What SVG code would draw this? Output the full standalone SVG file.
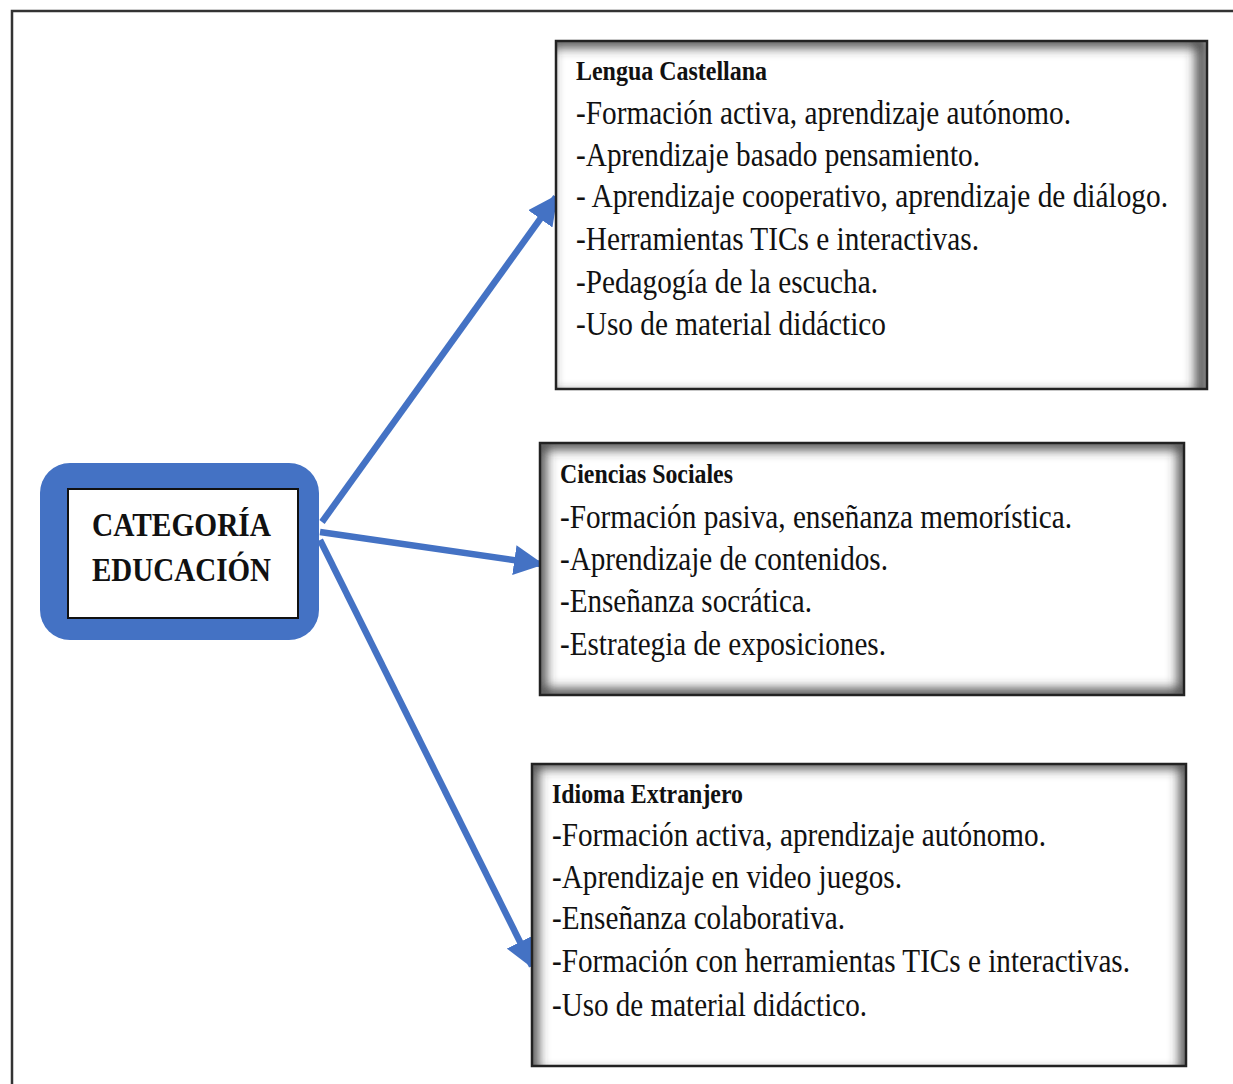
<svg xmlns="http://www.w3.org/2000/svg" width="1233" height="1084" viewBox="0 0 1233 1084">
  <defs>
    <style>
      .frame { fill: none; stroke: #333; stroke-width: 2.5; }
      .box { fill: none; stroke: #222; stroke-width: 2.5; }
      .glow { fill: none; stroke: #3a3a3a; stroke-width: 12; }
      .txt { font-family: "Liberation Serif", "Times New Roman", serif; fill: #111; }
      .body { font-size: 33px; }
      .head { font-size: 27px; font-weight: bold; }
      .core { font-size: 34px; font-weight: bold; }
      .link { fill: none; stroke: #4472C4; stroke-width: 6.5; stroke-linecap: butt; }
    </style>
    <filter id="soft" x="-10%" y="-10%" width="120%" height="120%">
      <feGaussianBlur stdDeviation="6"/>
    </filter>
    <marker id="head" viewBox="0 0 10 10" refX="9" refY="5" markerWidth="4.6" markerHeight="4.6" orient="auto" markerUnits="strokeWidth">
      <path d="M0,0 L10,5 L0,10 Z" fill="#4472C4"/>
    </marker>
    <clipPath id="clipA"><rect x="556" y="41" width="651" height="348"/></clipPath>
    <clipPath id="clipB"><rect x="540" y="443" width="644" height="252"/></clipPath>
    <clipPath id="clipC"><rect x="532" y="764" width="654" height="302"/></clipPath>
  </defs>

  <rect width="1233" height="1084" fill="#fff"/>

  <!-- outer page frame -->
  <rect class="frame" x="12" y="11" width="1240" height="1100"/>

  <!-- connectors -->
  <g id="connectors">
    <line class="link" x1="322" y1="522" x2="556" y2="197" marker-end="url(#head)"/>
    <line class="link" x1="320" y1="532" x2="541" y2="564" marker-end="url(#head)"/>
    <line class="link" x1="320" y1="540" x2="532" y2="966" marker-end="url(#head)"/>
  </g>

  <!-- central category -->
  <g id="node-categoria">
    <rect x="40" y="463" width="279" height="177" rx="30" ry="30" fill="#4472C4"/>
    <rect x="68" y="489" width="230" height="129" fill="#fff" stroke="#111" stroke-width="2"/>
    <text class="txt core" x="92" y="536" textLength="179" lengthAdjust="spacingAndGlyphs">CATEGORÍA</text>
    <text class="txt core" x="92" y="581" textLength="179" lengthAdjust="spacingAndGlyphs">EDUCACIÓN</text>
  </g>

  <!-- Lengua Castellana -->
  <g id="node-lengua">
    <rect x="556" y="41" width="651" height="348" fill="#fff"/>
    <g clip-path="url(#clipA)">
      <rect class="glow" x="546" y="41" width="656" height="358" filter="url(#soft)"/>
    </g>
    <rect class="box" x="556" y="41" width="651" height="348"/>
    <text class="txt head" x="576" y="80" textLength="191" lengthAdjust="spacingAndGlyphs">Lengua Castellana</text>
    <text class="txt body" x="576" y="124" textLength="495" lengthAdjust="spacingAndGlyphs">-Formación activa, aprendizaje autónomo.</text>
    <text class="txt body" x="576" y="166" textLength="404" lengthAdjust="spacingAndGlyphs">-Aprendizaje basado pensamiento.</text>
    <text class="txt body" x="576" y="207" textLength="592" lengthAdjust="spacingAndGlyphs">- Aprendizaje cooperativo, aprendizaje de diálogo.</text>
    <text class="txt body" x="576" y="250" textLength="403" lengthAdjust="spacingAndGlyphs">-Herramientas TICs e interactivas.</text>
    <text class="txt body" x="576" y="293" textLength="302" lengthAdjust="spacingAndGlyphs">-Pedagogía de la escucha.</text>
    <text class="txt body" x="576" y="335" textLength="310" lengthAdjust="spacingAndGlyphs">-Uso de material didáctico</text>
  </g>

  <!-- Ciencias Sociales -->
  <g id="node-ciencias">
    <rect x="540" y="443" width="644" height="252" fill="#fff"/>
    <g clip-path="url(#clipB)">
      <rect class="glow" x="540" y="443" width="644" height="252" filter="url(#soft)"/>
    </g>
    <rect class="box" x="540" y="443" width="644" height="252"/>
    <text class="txt head" x="560" y="483" textLength="173" lengthAdjust="spacingAndGlyphs">Ciencias Sociales</text>
    <text class="txt body" x="560" y="528" textLength="512" lengthAdjust="spacingAndGlyphs">-Formación pasiva, enseñanza memorística.</text>
    <text class="txt body" x="560" y="570" textLength="328" lengthAdjust="spacingAndGlyphs">-Aprendizaje de contenidos.</text>
    <text class="txt body" x="560" y="612" textLength="252" lengthAdjust="spacingAndGlyphs">-Enseñanza socrática.</text>
    <text class="txt body" x="560" y="655" textLength="326" lengthAdjust="spacingAndGlyphs">-Estrategia de exposiciones.</text>
  </g>

  <!-- Idioma Extranjero -->
  <g id="node-idioma">
    <rect x="532" y="764" width="654" height="302" fill="#fff"/>
    <g clip-path="url(#clipC)">
      <rect class="glow" x="532" y="762" width="654" height="316" filter="url(#soft)"/>
    </g>
    <rect class="box" x="532" y="764" width="654" height="302"/>
    <text class="txt head" x="552" y="803" textLength="191" lengthAdjust="spacingAndGlyphs">Idioma Extranjero</text>
    <text class="txt body" x="552" y="846" textLength="494" lengthAdjust="spacingAndGlyphs">-Formación activa, aprendizaje autónomo.</text>
    <text class="txt body" x="552" y="888" textLength="350" lengthAdjust="spacingAndGlyphs">-Aprendizaje en video juegos.</text>
    <text class="txt body" x="552" y="929" textLength="293" lengthAdjust="spacingAndGlyphs">-Enseñanza colaborativa.</text>
    <text class="txt body" x="552" y="972" textLength="578" lengthAdjust="spacingAndGlyphs">-Formación con herramientas TICs e interactivas.</text>
    <text class="txt body" x="552" y="1016" textLength="315" lengthAdjust="spacingAndGlyphs">-Uso de material didáctico.</text>
  </g>
</svg>
